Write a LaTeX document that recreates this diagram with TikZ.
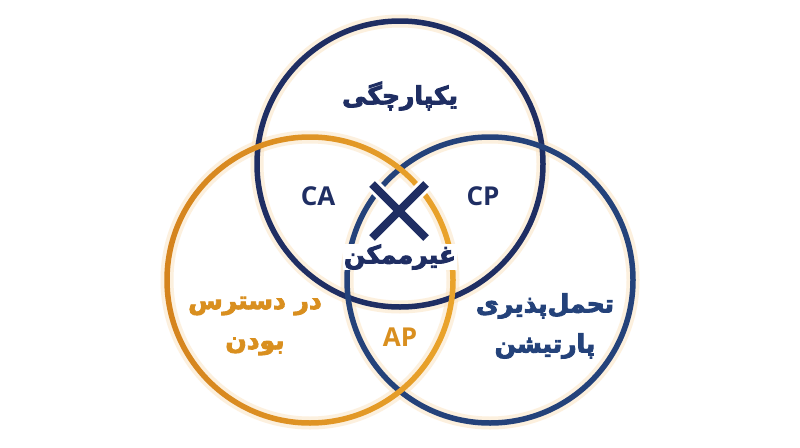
\documentclass[tikz,border=0pt]{standalone}
\usepackage{fontspec}
\setmainfont{Open Sans}
\newfontfamily\fa[Script=Arabic]{DejaVu Sans}
\TeXXeTstate=1
\definecolor{navy}{HTML}{1F2E63}
\definecolor{rblue}{HTML}{24427A}
\definecolor{gold}{HTML}{EAA42B}
\definecolor{golddark}{HTML}{D4831D}
\definecolor{goldtext}{HTML}{D98F1F}
\definecolor{glow}{HTML}{FBE2BE}
\newcommand\heavy[1]{\special{pdf:literal direct 2 Tr 0.9 w}#1\special{pdf:literal direct 0 Tr}}
\tikzset{
  ring/.style={line width=5.5pt},
  glowring/.style={line width=13pt, draw=glow, opacity=0.5},
  falabel/.style={font=\fa\bfseries\fontsize{25}{30}\selectfont, align=center, inner sep=0pt},
  enlabel/.style={font=\bfseries\fontsize{26}{30}\selectfont, inner sep=0pt},
}
\begin{document}
\begin{tikzpicture}[x=1pt,y=-1pt]
\useasboundingbox (0,0) rectangle (800,447);
\fill[white] (0,0) rectangle (800,447);
\coordinate (ct) at (400,164);
\coordinate (cl) at (310,280);
\coordinate (cr) at (490,280);
% glow
\draw[glowring] (ct) circle[radius=143];
\draw[glowring] (cl) circle[radius=143];
\draw[glowring] (cr) circle[radius=143];
% rings
\draw[ring, draw=navy] (ct) circle[radius=143];
\draw[ring, draw=rblue] (cr) circle[radius=143];
\begin{scope}
  \clip (cl) ++(145.75,0) arc[start angle=0, end angle=360, radius=145.75]
        -- ++(-5.5,0) arc[start angle=360, end angle=0, radius=140.25] -- cycle;
  \shade[left color=golddark, right color=gold] (160,130) rectangle (460,430);
\end{scope}
% X mark
\coordinate (xa) at (372,184);
\coordinate (xb) at (426,238);
\coordinate (xc) at (426,184);
\coordinate (xd) at (372,238);
\draw[line width=14pt, white] (xa) -- (xb) (xc) -- (xd);
\draw[line width=8pt, navy] (xa) -- (xb) (xc) -- (xd);
% labels
\node[falabel, text=navy] (integ) at (400,96) {\heavy{\beginR یکپارچگی\endR}};
\node[enlabel, text=navy] (ca) at (318,196) {CA};
\node[enlabel, text=navy] (cp) at (483,196) {CP};
\node[falabel, text=navy, fill=white, inner xsep=1pt, inner ysep=0pt] (imp) at (400,257) {\heavy{\beginR غیرممکن\endR}};
\node[falabel, text=goldtext] (avail) at (255,326) {\heavy{\beginR در دسترس\endR}\\[10pt]\heavy{\beginR بودن\endR}};
\node[enlabel, text=goldtext] (ap) at (400,337) {AP};
\node[falabel, text=rblue] (part) at (545,326) {\heavy{\beginR تحمل‌پذیری\endR}\\[10pt]\heavy{\beginR پارتیشن\endR}};
\end{tikzpicture}
\end{document}
